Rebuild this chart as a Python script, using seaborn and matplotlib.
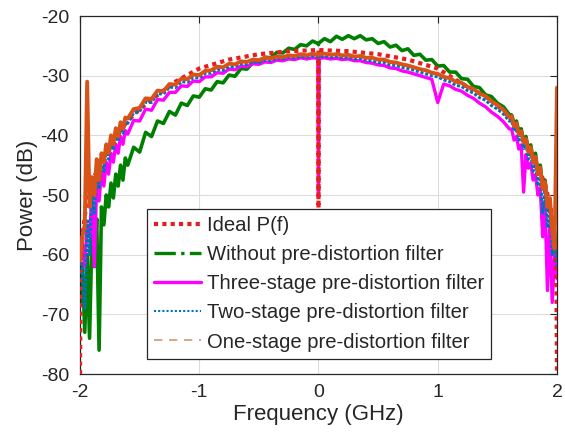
import numpy as np
import seaborn as sns
import matplotlib.pyplot as plt
from matplotlib.lines import Line2D

# frequency samples (GHz): finer near the band edges where the spectra are noisy
LEFT_F = np.round(np.arange(-2.0, -1.61, 0.02), 3)
MID_F = np.round(np.arange(-1.6, 1.61, 0.05), 3)
RIGHT_F = np.round(np.arange(1.62, 2.001, 0.02), 3)
FREQ = np.sort(np.concatenate([LEFT_F, MID_F, [-0.005, 0.005], RIGHT_F]))

# ideal spectrum P(f), with the notch at DC
IDEAL_F = [-2.0, -1.995, -1.98, -1.95, -1.9, -1.85, -1.8, -1.7, -1.6, -1.5, -1.4, -1.2,
           -1.0, -0.75, -0.5, -0.25, 0.0, 0.0, 0.0, 0.25, 0.5, 0.75, 1.0, 1.2, 1.4, 1.5,
           1.6, 1.7, 1.8, 1.85, 1.9, 1.95, 1.98, 1.995, 2.0]
IDEAL_P = [-80, -64, -57, -52, -48, -45.5, -43.5, -40.2, -37.6, -35.6, -34.0, -31.0,
           -28.8, -27.3, -26.4, -25.9, -25.7, -62, -25.7, -25.9, -26.4, -27.3, -28.8, -31.3,
           -33.5, -35.0, -37.0, -39.6, -43.6, -45.8, -48.2, -52.5, -58, -64, -80]

WITHOUT = [
    -68, -62, -73, -60, -74, -57, -62, -54, -76, -52,
    -55, -50, -52, -48, -50.5, -46.5, -48.5, -45, -47.5, -43.8,
    -45.0, -42.0, -42.8, -39.5, -40.2, -37.6, -38.0, -36.0, -36.6, -34.6,
    -35.0, -33.4, -33.6, -32.2, -32.4, -31.0, -31.2, -29.9, -30.1, -28.8,
    -28.9, -27.8, -27.9, -26.9, -27.0, -26.1, -26.2, -25.4, -25.6, -24.8,
    -25.0, -24.2, -24.6, -24.8, -24.5, -23.8, -24.3, -23.4, -23.9, -23.3,
    -23.8, -23.3, -24.0, -23.8, -24.6, -24.3, -25.2, -24.9, -25.8, -25.5,
    -26.6, -26.4, -27.4, -27.3, -28.4, -28.3, -29.4, -29.4, -30.5, -30.6,
    -31.8, -32.0, -33.2, -33.5, -34.6, -35.2, -36.5,
    -36.6, -38.0, -37.6, -39.4, -38.9, -41.0, -40.2, -42.5, -41.6, -44.2,
    -43.0, -46.5, -45.0, -49.0, -47.5, -52.5, -51.0, -57.0, -56.0, -62.0,
]

THREE_STAGE = [
    -60, -58, -62, -55, -57, -50, -62, -48, -51, -46,
    -48.5, -44.5, -46.5, -43, -44.5, -41.5, -43, -40.2, -41.5, -39.2,
    -39.8, -37.5, -37.6, -35.6, -35.8, -34.0, -34.1, -32.8, -32.8, -31.7,
    -31.8, -30.9, -31.0, -30.2, -30.2, -29.5, -29.6, -28.9, -29.0, -28.4,
    -28.5, -28.0, -28.1, -27.7, -27.8, -27.4, -27.5, -27.2, -27.3, -27.0,
    -27.2, -27.0, -27.1, -50.0, -27.1, -27.0, -27.2, -27.1, -27.3, -27.2,
    -27.5, -27.5, -27.8, -27.9, -28.2, -28.3, -28.7, -28.8, -29.2, -29.4,
    -29.7, -30.0, -30.3, -30.6, -34.5, -31.4, -31.7, -32.3, -32.6, -33.3,
    -33.8, -34.6, -35.2, -36.1, -36.8, -37.7, -38.9,
    -39.0, -40.8, -40.2, -42.3, -41.6, -49.5, -43.2, -45.5, -44.6, -47.5,
    -46.6, -50.0, -48.8, -57.0, -51.5, -66.0, -55.0, -68.0, -60.0, -64.0,
]

TWO_STAGE = [
    -58, -63, -69, -54, -60, -49, -53, -46, -49, -44.5,
    -46, -42.5, -44, -41, -42.5, -39.8, -41, -38.6, -39.6, -37.6,
    -38.0, -36.2, -36.0, -34.4, -34.5, -33.0, -33.1, -31.9, -32.0, -31.0,
    -31.1, -30.3, -30.4, -29.6, -29.6, -29.0, -29.1, -28.5, -28.5, -28.0,
    -28.1, -27.7, -27.8, -27.4, -27.5, -27.1, -27.2, -26.9, -27.0, -26.8,
    -26.9, -26.7, -26.9, -26.9, -26.8, -26.7, -26.9, -26.8, -27.0, -26.9,
    -27.2, -27.1, -27.4, -27.5, -27.8, -27.8, -28.2, -28.3, -28.6, -28.8,
    -29.1, -29.4, -29.7, -30.0, -30.2, -30.7, -31.0, -31.6, -31.8, -32.5,
    -32.9, -33.7, -34.1, -35.0, -35.6, -36.4, -37.6,
    -37.5, -39.3, -38.8, -40.8, -40.0, -42.2, -41.4, -44.0, -43.0, -46.0,
    -44.6, -48.5, -47.0, -53.0, -49.0, -55.5, -52.0, -60.0, -58.0, -62.0,
]

ONE_STAGE = [
    -61, -57, -55, -31, -52, -47, -50, -44, -47.5, -43,
    -44.5, -41.5, -43, -40, -41.5, -38.8, -40.2, -37.8, -38.9, -37.0,
    -37.2, -35.6, -35.4, -33.8, -33.9, -32.5, -32.6, -31.4, -31.5, -30.5,
    -30.6, -29.8, -29.9, -29.2, -29.1, -28.5, -28.6, -28.0, -28.1, -27.6,
    -27.7, -27.3, -27.4, -27.0, -27.1, -26.8, -26.9, -26.6, -26.7, -26.4,
    -26.6, -26.3, -26.5, -26.5, -26.4, -26.3, -26.5, -26.4, -26.6, -26.5,
    -26.8, -26.7, -27.0, -27.0, -27.3, -27.3, -27.7, -27.8, -28.1, -28.3,
    -28.6, -28.9, -29.1, -29.5, -29.7, -30.2, -30.4, -31.0, -31.2, -31.9,
    -32.2, -33.0, -33.4, -34.3, -34.9, -35.7, -36.9,
    -36.8, -38.5, -38.0, -39.8, -39.3, -41.2, -40.6, -42.8, -42.0, -44.5,
    -43.6, -46.5, -45.4, -49.0, -47.8, -52.0, -50.5, -56.0, -59.0, -32.0,
]

LABELS = ['Ideal P(f)', 'Without pre-distortion filter', 'Three-stage pre-distortion filter',
          'Two-stage pre-distortion filter', 'One-stage pre-distortion filter']
X_TICKS = [-2, -1, 0, 1, 2]
Y_TICKS = [-80, -70, -60, -50, -40, -30, -20]

RED = '#e61e1e'
GREEN = '#008000'
MAGENTA = '#ff00ff'
BLUE = '#0072bd'
ORANGE = '#d95319'

sns.set_style('white')
plt.rcParams['font.family'] = ['Liberation Sans', 'DejaVu Sans']
plt.rcParams['axes.unicode_minus'] = False

fig = plt.figure(figsize=(5.65, 4.41), dpi=100)
ax = fig.add_axes([0.1416, 0.1519, 0.8442, 0.8118])

sns.lineplot(x=FREQ, y=WITHOUT, ax=ax, color=GREEN, lw=2.6, estimator=None, sort=False, zorder=2)
sns.lineplot(x=FREQ, y=THREE_STAGE, ax=ax, color=MAGENTA, lw=2.4, estimator=None, sort=False, zorder=3)
sns.lineplot(x=IDEAL_F, y=IDEAL_P, ax=ax, color=RED, lw=3, linestyle=(0, (1, 1)),
             estimator=None, sort=False, zorder=4)
sns.lineplot(x=FREQ, y=TWO_STAGE, ax=ax, color=BLUE, lw=2.2, linestyle=(0, (1, 0.6)),
             estimator=None, sort=False, zorder=5)
sns.lineplot(x=FREQ, y=ONE_STAGE, ax=ax, color=ORANGE, lw=2.8, estimator=None, sort=False, zorder=6)

ax.set_xlim(-2, 2)
ax.set_ylim(-80, -20)
ax.set_xticks(X_TICKS)
ax.set_xticklabels([str(t) for t in X_TICKS])
ax.set_yticks(Y_TICKS)
ax.set_yticklabels([str(t) for t in Y_TICKS])
ax.grid(True, color='#dcdcdc', lw=0.8)
ax.set_axisbelow(True)
for sp in ax.spines.values():
    sp.set_color('#262626')
    sp.set_linewidth(0.9)
ax.tick_params(direction='in', top=True, right=True, length=5, width=0.8,
               labelsize=14, colors='#262626')
ax.tick_params(axis='x', pad=7)
ax.tick_params(axis='y', pad=8)
ax.set_xlabel('Frequency (GHz)', fontsize=16, color='#262626', labelpad=2)
ax.set_ylabel('Power (dB)', fontsize=16, color='#262626', labelpad=2)

handles = [
    Line2D([], [], color=RED, lw=3, linestyle=(0, (1, 1))),
    Line2D([], [], color=GREEN, lw=2.4, linestyle='-.'),
    Line2D([], [], color=MAGENTA, lw=2.4),
    Line2D([], [], color=BLUE, lw=1.5, linestyle=(0, (1, 1))),
    Line2D([], [], color='#cf9a78', lw=1.2, linestyle=(0, (5, 4))),
]
leg = ax.legend(handles, LABELS, loc='center', bbox_to_anchor=(0.501, 0.252), fontsize=14.6,
                frameon=True, fancybox=False, edgecolor='#262626', framealpha=1,
                handlelength=2.3, handletextpad=0.3, labelspacing=0.5, borderpad=0.35,
                borderaxespad=0)
leg.get_frame().set_linewidth(0.9)
leg.set_zorder(10)

fig.savefig('out.png', dpi=100)
